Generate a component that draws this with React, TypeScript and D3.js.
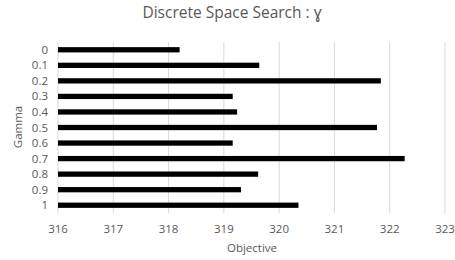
import React from "react";
import * as d3 from "d3";

// gamma values and the objective reached for each
const gammas = ["0", "0.1", "0.2", "0.3", "0.4", "0.5", "0.6", "0.7", "0.8", "0.9", "1"];
const objectives = [318.2, 319.64, 321.84, 319.16, 319.24, 321.77, 319.16, 322.27, 319.62, 319.31, 320.35];
const xTicks = [316, 317, 318, 319, 320, 321, 322, 323];

const width = 455;
const height = 260;
const margin = { top: 42, right: 10, bottom: 47, left: 58 };

const App = () => {
	const innerW = 445 - margin.left;
	const innerH = height - margin.top - margin.bottom;

	const xScale = d3.scaleLinear().domain([316, 323]).range([0, innerW]);
	const yScale = d3.scaleBand().domain(gammas).range([0, innerH]).paddingInner(0.66).paddingOuter(0.33);

	const font = "'Open Sans', 'Noto Sans', sans-serif";
	const textColor = "#595959";

	return (
		<svg width={width} height={height} style={{ position: "absolute", left: 0, top: 0 }} fontFamily={font}>
			<text x={232} y={18} textAnchor="middle" fontSize={15.5} fill={textColor}>
				Discrete Space Search : ɣ
			</text>
			<g transform={`translate(${margin.left}, ${margin.top})`}>
				{xTicks.map(t => (
					<line key={t} x1={xScale(t)} x2={xScale(t)} y1={0} y2={innerH} stroke="#d9d9d9" strokeWidth={1} />
				))}
				{gammas.map((g, i) => (
					<rect
						key={g}
						x={xScale(316)}
						y={yScale(g)}
						width={xScale(objectives[i]) - xScale(316)}
						height={yScale.bandwidth()}
						fill="#000"
					/>
				))}
				{gammas.map(g => (
					<text
						key={g}
						x={-10}
						y={(yScale(g) || 0) + yScale.bandwidth() / 2}
						dy="0.35em"
						textAnchor="end"
						fontSize={11.5}
						fill={textColor}
					>
						{g}
					</text>
				))}
				{xTicks.map(t => (
					<text key={t} x={xScale(t)} y={innerH + 20} textAnchor="middle" fontSize={11.5} fill={textColor}>
						{t}
					</text>
				))}
			</g>
			<text x={252} y={252} textAnchor="middle" fontSize={11.5} fill={textColor}>
				Objective
			</text>
			<text transform={`translate(22, 127) rotate(-90)`} textAnchor="middle" fontSize={11.5} fill={textColor}>
				Gamma
			</text>
		</svg>
	);
};

export default App;
